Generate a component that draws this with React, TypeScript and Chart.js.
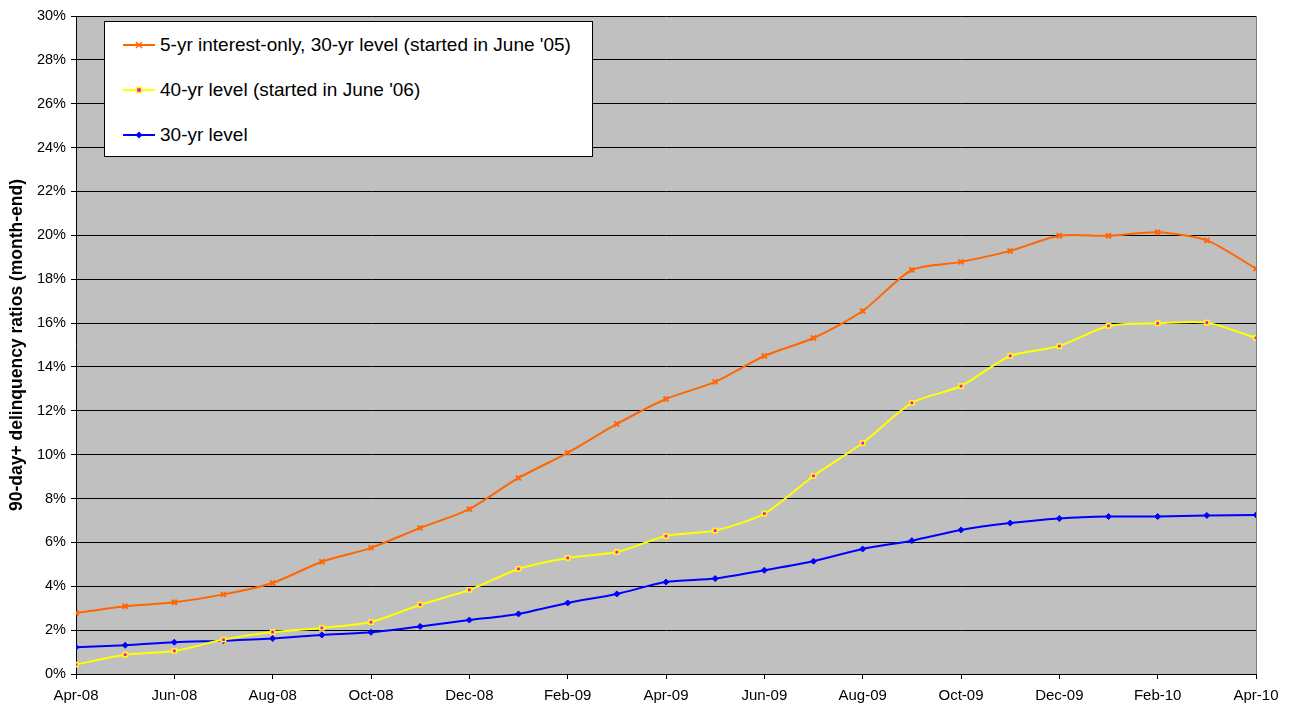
import React, { useEffect, useRef } from "react";
import { Chart, registerables } from "chart.js";

Chart.register(...registerables);

const months = [
  "Apr-08", "May-08", "Jun-08", "Jul-08", "Aug-08", "Sep-08", "Oct-08", "Nov-08", "Dec-08",
  "Jan-09", "Feb-09", "Mar-09", "Apr-09", "May-09", "Jun-09", "Jul-09", "Aug-09", "Sep-09",
  "Oct-09", "Nov-09", "Dec-09", "Jan-10", "Feb-10", "Mar-10", "Apr-10",
];

const interestOnly = [
  2.78, 3.09, 3.27, 3.63, 4.15, 5.12, 5.75, 6.66, 7.52, 8.94, 10.08, 11.40, 12.54,
  13.32, 14.50, 15.32, 16.55, 18.42, 18.79, 19.29, 19.98, 19.98, 20.14, 19.77, 18.48,
];

const fortyYr = [
  0.43, 0.88, 1.05, 1.57, 1.91, 2.10, 2.37, 3.16, 3.83, 4.79, 5.29, 5.56, 6.29,
  6.54, 7.31, 9.03, 10.53, 12.36, 13.13, 14.50, 14.95, 15.87, 15.99, 16.02, 15.32,
];

const thirtyYr = [
  1.22, 1.31, 1.45, 1.52, 1.62, 1.78, 1.90, 2.17, 2.46, 2.74, 3.24, 3.65, 4.19,
  4.35, 4.73, 5.14, 5.70, 6.08, 6.57, 6.88, 7.09, 7.18, 7.18, 7.23, 7.25,
];

const legendLabels = [
  "5-yr interest-only, 30-yr level (started in June '05)",
  "40-yr level (started in June '06)",
  "30-yr level",
];

const yTitle = "90-day+ delinquency ratios (month-end)";

const FONT = "'Liberation Sans', Arial, sans-serif";

const toXY = (arr: number[]) => arr.map((v, i) => ({ x: i, y: v }));

const plotBg = {
  id: "plotBg",
  beforeDraw(chart: any) {
    const { ctx, chartArea } = chart;
    ctx.save();
    ctx.fillStyle = "#C0C0C0";
    ctx.fillRect(chartArea.left, chartArea.top, chartArea.right - chartArea.left, chartArea.bottom - chartArea.top);
    ctx.restore();
  },
  beforeDatasetsDraw(chart: any) {
    const { ctx, chartArea } = chart;
    ctx.save();
    ctx.strokeStyle = "#808080";
    ctx.lineWidth = 1;
    ctx.beginPath();
    ctx.moveTo(Math.round(chartArea.right) + 0.5, chartArea.top);
    ctx.lineTo(Math.round(chartArea.right) + 0.5, chartArea.bottom);
    ctx.stroke();
    ctx.restore();
  },
};

function LegendItem({ color, kind, label }: { color: string; kind: string; label: string }) {
  let marker: any = null;
  if (kind === "cross") {
    marker = (
      <g stroke={color} strokeWidth={1.5}>
        <line x1={13} y1={3} x2={19} y2={9} />
        <line x1={19} y1={3} x2={13} y2={9} />
      </g>
    );
  } else if (kind === "square") {
    marker = <rect x={13.5} y={3.5} width={5} height={5} fill="#FF00FF" stroke={color} strokeWidth={1.5} />;
  } else {
    marker = <polygon points="16,2.5 19.5,6 16,9.5 12.5,6" fill={color} />;
  }
  return (
    <div style={{ display: "flex", alignItems: "center", height: 45 }}>
      <svg width={32} height={12} style={{ marginLeft: 18, marginRight: 5, flex: "none" }}>
        <line x1={0} y1={6} x2={32} y2={6} stroke={color} strokeWidth={2} />
        {marker}
      </svg>
      <span style={{ whiteSpace: "nowrap" }}>{label}</span>
    </div>
  );
}

export default function App() {
  const ref = useRef<HTMLCanvasElement | null>(null);

  useEffect(() => {
    if (!ref.current) return;
    const chart = new Chart(ref.current, {
      type: "line",
      data: {
        datasets: [
          {
            label: legendLabels[0],
            data: toXY(interestOnly),
            borderColor: "#FF6600",
            backgroundColor: "#FF6600",
            borderWidth: 2,
            pointStyle: "crossRot",
            pointRadius: 3.5,
            pointBorderWidth: 2,
            tension: 0.25,
          },
          {
            label: legendLabels[1],
            data: toXY(fortyYr),
            borderColor: "#FFFF00",
            backgroundColor: "#FF00FF",
            borderWidth: 2,
            pointStyle: "rect",
            pointRadius: 3,
            pointBorderWidth: 1.5,
            tension: 0.25,
          },
          {
            label: legendLabels[2],
            data: toXY(thirtyYr),
            borderColor: "#0000FF",
            backgroundColor: "#0000FF",
            borderWidth: 2,
            pointStyle: "rectRot",
            pointRadius: 3,
            pointBorderWidth: 1,
            tension: 0.25,
          },
        ],
      },
      options: {
        animation: false,
        responsive: false,
        maintainAspectRatio: false,
        layout: { padding: { left: 0, right: 35, top: 16, bottom: 0 } },
        plugins: { legend: { display: false }, tooltip: { enabled: false } },
        scales: {
          x: {
            type: "linear",
            min: 0,
            max: 24,
            afterFit: (s: any) => {
              s.height = 32;
            },
            ticks: {
              stepSize: 2,
              autoSkip: false,
              maxRotation: 0,
              padding: 8,
              color: "#000",
              font: { family: FONT, size: 15 },
              callback: (v: any) => months[v as number] ?? "",
            },
            grid: { drawOnChartArea: false, drawTicks: true, tickLength: 5, color: "#000" },
            border: { color: "#000", width: 1 },
          },
          y: {
            min: 0,
            max: 30,
            afterFit: (s: any) => {
              s.width = 76;
            },
            ticks: {
              stepSize: 2,
              padding: 5,
              color: "#000",
              font: { family: FONT, size: 14.5 },
              callback: (v: any) => v + "%",
            },
            grid: { color: "#000", lineWidth: 1, tickLength: 5, drawTicks: true },
            border: { color: "#000", width: 1 },
            title: {
              display: true,
              text: yTitle,
              color: "#000",
              font: { family: FONT, size: 17.5, weight: "bold" },
              padding: { top: 7, bottom: 0 },
            },
          },
        },
      },
      plugins: [plotBg],
    } as any);
    return () => chart.destroy();
  }, []);

  return (
    <div style={{ position: "absolute", left: 0, top: 0, width: 1291, height: 706, background: "#fff" }}>
      <canvas ref={ref} width={1291} height={706} style={{ width: 1291, height: 706, display: "block" }} />
      <div
        style={{
          position: "absolute",
          left: 104,
          top: 21,
          width: 487,
          height: 134,
          background: "#fff",
          border: "1px solid #000",
          fontFamily: FONT,
          fontSize: 19,
          color: "#000",
          boxSizing: "content-box",
        }}
      >
        <LegendItem color="#FF6600" kind="cross" label={legendLabels[0]} />
        <LegendItem color="#FFFF00" kind="square" label={legendLabels[1]} />
        <LegendItem color="#0000FF" kind="diamond" label={legendLabels[2]} />
      </div>
    </div>
  );
}
